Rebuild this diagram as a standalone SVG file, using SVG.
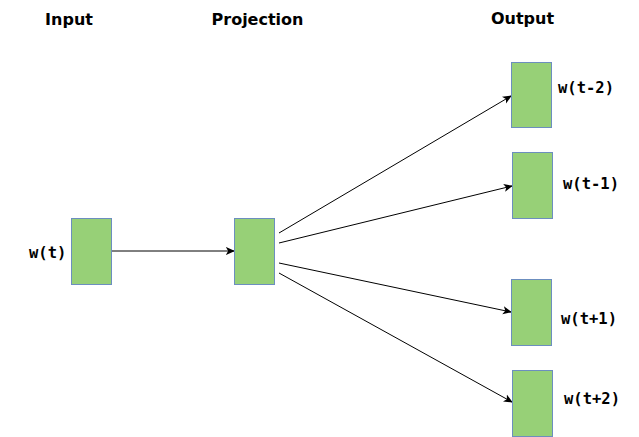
<svg xmlns="http://www.w3.org/2000/svg" width="639" height="437" viewBox="0 0 639 437">
<defs>
<style>
.box{fill:#97d077;stroke:#6c8ebf;stroke-width:1}
.hdr{font-family:"DejaVu Sans",Verdana,sans-serif;font-weight:bold;font-size:16px;fill:#000}
.lbl{font-family:"DejaVu Sans Mono","Liberation Mono",monospace;font-weight:bold;font-size:15.5px;fill:#000}
.edge{stroke:#000;stroke-width:1;fill:none;marker-end:url(#arr)}
</style>
<marker id="arr" viewBox="0 0 10 10" refX="9" refY="5" markerWidth="9" markerHeight="9" markerUnits="userSpaceOnUse" orient="auto">
<path d="M0,0.5 L10,5 L0,9.5 L2.5,5 Z" fill="#000"/>
</marker>
</defs>
<rect width="639" height="437" fill="#fff"/>
<g id="headers">
<text class="hdr" x="69" y="25" text-anchor="middle">Input</text>
<text class="hdr" x="257.5" y="25" text-anchor="middle">Projection</text>
<text class="hdr" x="522.5" y="24" text-anchor="middle">Output</text>
</g>
<g id="connectors">
<line class="edge" x1="111" y1="251" x2="234" y2="251"/>
<line class="edge" x1="279" y1="233" x2="511" y2="96"/>
<line class="edge" x1="279" y1="243" x2="512" y2="186"/>
<line class="edge" x1="279" y1="263" x2="511" y2="312"/>
<line class="edge" x1="279" y1="273" x2="512" y2="402"/>
</g>
<g id="input">
<rect class="box" x="71.5" y="218.5" width="40" height="66"/>
<text class="lbl" x="29" y="258">w(t)</text>
</g>
<g id="projection">
<rect class="box" x="234.5" y="218.5" width="40" height="66"/>
</g>
<g id="out-t-2">
<rect class="box" x="511.5" y="62.5" width="40" height="65"/>
<text class="lbl" x="558" y="93">w(t-2)</text>
</g>
<g id="out-t-1">
<rect class="box" x="512.5" y="152.5" width="40" height="66"/>
<text class="lbl" x="563" y="189">w(t-1)</text>
</g>
<g id="out-t+1">
<rect class="box" x="511.5" y="279.5" width="40" height="66"/>
<text class="lbl" x="561" y="324">w(t+1)</text>
</g>
<g id="out-t+2">
<rect class="box" x="512.5" y="370.5" width="40" height="66"/>
<text class="lbl" x="564" y="404">w(t+2)</text>
</g>
</svg>
